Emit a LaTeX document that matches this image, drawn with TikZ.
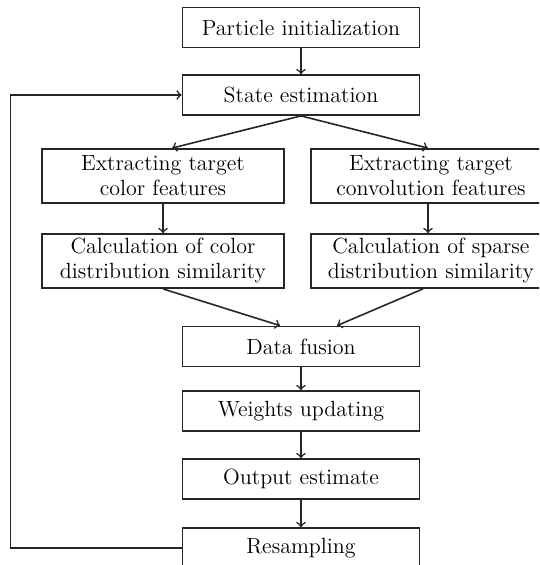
\documentclass[tikz,border=0pt]{standalone}
\usepackage{tikz}
\usetikzlibrary{positioning}
\tikzstyle{mainbox} = [rectangle, minimum width=118.5pt, minimum height=20pt, inner sep=2pt, text centered, draw=black!85, line width=0.9pt]
\tikzstyle{sidebox} = [rectangle, minimum width=121pt, minimum height=27pt, inner sep=2pt, align=center, draw=black!85, line width=0.9pt]
\tikzstyle{arrow} = [line width=0.8pt, draw=black!85, ->, >=to]

\begin{document}
\begin{tikzpicture}[font=\fontsize{11}{12.5}\selectfont]
            \clip (-150.5pt,13.75pt) rectangle (119pt,-268.75pt);
            \node (init) [mainbox] {Particle initialization};
            \node (state) [mainbox, below of=init, node distance=33.75pt] {State estimation};
            \node (colext) [sidebox, below of=state, node distance=40.5pt, xshift=-69pt] {Extracting target\\color features};
            \node (convext) [sidebox, minimum width=120pt, below of=state, node distance=40.5pt, xshift=65pt] {Extracting target\\convolution features};
            \node (colsim) [sidebox, below of=colext, node distance=42.5pt] {Calculation of color\\distribution similarity};
            \node (sparsesim) [sidebox, minimum width=120pt, below of=convext, node distance=42.5pt] {Calculation of sparse\\distribution similarity};
            \node (fusion) [mainbox, below of=state, node distance=125.75pt] {Data fusion};
            \node (weights) [mainbox, below of=fusion, node distance=32.25pt] {Weights updating};
            \node (output) [mainbox, below of=weights, node distance=34pt] {Output estimate};
            \node (resamp) [mainbox, below of=output, node distance=34.5pt] {Resampling};

            \draw [arrow] (init) -- (state);
            \draw [arrow] (state.south) -- ([xshift=4.5pt]colext.north);
            \draw [arrow] (state.south) -- ([xshift=-1.5pt]convext.north);
            \draw [arrow] (colext) -- (colsim);
            \draw [arrow] ([xshift=-1.5pt]convext.south) -- ([xshift=-1.5pt]sparsesim.north);
            \draw [arrow] (colsim.south) -- ([xshift=-10.5pt]fusion.north);
            \draw [arrow] ([xshift=-4pt]sparsesim.south) -- ([xshift=18pt]fusion.north);
            \draw [arrow] (fusion) -- (weights);
            \draw [arrow] (weights) -- (output);
            \draw [arrow] (output) -- (resamp);
            \draw [arrow] (resamp.west) -- ++(-85.5pt,0) |- (state.west);
        \end{tikzpicture}
\end{document}
